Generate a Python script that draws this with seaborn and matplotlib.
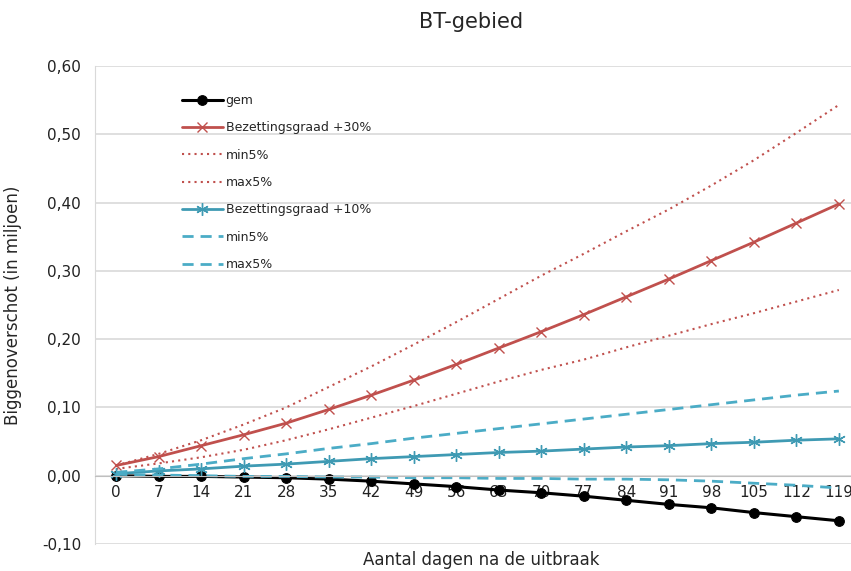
"""
BT-gebied: biggenoverschot per dag na de uitbraak.
"""
import numpy as np
import pandas as pd
import seaborn as sns
import matplotlib
matplotlib.use("Agg")
import matplotlib.pyplot as plt
from matplotlib.ticker import FuncFormatter

# dagen na de uitbraak
days = [0, 7, 14, 21, 28, 35, 42, 49, 56, 63, 70, 77, 84, 91, 98, 105, 112, 119]

# biggenoverschot (in miljoen)
gem = [0.000, -0.001, -0.001, -0.002, -0.003, -0.005, -0.008, -0.012, -0.016,
       -0.021, -0.025, -0.030, -0.036, -0.042, -0.047, -0.054, -0.060, -0.066]
bez30 = [0.015, 0.028, 0.044, 0.060, 0.077, 0.097, 0.118, 0.140, 0.163,
         0.187, 0.211, 0.236, 0.262, 0.288, 0.315, 0.342, 0.370, 0.398]
bez30_min5 = [0.010, 0.018, 0.027, 0.038, 0.052, 0.068, 0.085, 0.102, 0.120,
              0.138, 0.155, 0.170, 0.188, 0.205, 0.222, 0.238, 0.255, 0.272]
bez30_max5 = [0.015, 0.032, 0.052, 0.075, 0.100, 0.130, 0.160, 0.192, 0.225,
              0.259, 0.293, 0.325, 0.358, 0.390, 0.425, 0.462, 0.502, 0.543]
bez10 = [0.003, 0.007, 0.010, 0.014, 0.017, 0.021, 0.025, 0.028, 0.031,
         0.034, 0.036, 0.039, 0.042, 0.044, 0.047, 0.049, 0.052, 0.054]
bez10_min5 = [0.002, 0.001, 0.000, -0.001, -0.001, -0.002, -0.002, -0.003, -0.003,
              -0.004, -0.004, -0.005, -0.005, -0.006, -0.008, -0.011, -0.014, -0.018]
bez10_max5 = [0.005, 0.010, 0.017, 0.025, 0.032, 0.040, 0.047, 0.055, 0.062,
              0.069, 0.076, 0.083, 0.090, 0.097, 0.104, 0.111, 0.118, 0.124]

red = "#c0504d"
blue_solid = "#3f9ab3"
blue_dash = "#4bacc6"

sns.set_style("white")
plt.rcParams["font.family"] = ["DejaVu Sans"]

fig = plt.figure(figsize=(8.51, 5.71), dpi=100)
ax = fig.add_axes([0.1116, 0.0473, 0.8884, 0.8371])

series = [
    ("gem", gem, dict(color="black", linestyle="-", linewidth=2.2, marker="o", markersize=7,
                      markeredgecolor="black", markerfacecolor="black")),
    ("Bezettingsgraad +30%", bez30, dict(color=red, linestyle="-", linewidth=2, marker="x",
                                         markersize=7, markeredgewidth=1, markeredgecolor=red)),
    ("min5%", bez30_min5, dict(color=red, linestyle=(0, (1, 2)), linewidth=1.5)),
    ("max5%", bez30_max5, dict(color=red, linestyle=(0, (1, 2)), linewidth=1.5)),
    ("Bezettingsgraad +10%", bez10, dict(color=blue_solid, linestyle="-", linewidth=2,
                                         marker=(6, 2, 0), markersize=9, markeredgewidth=1,
                                         markeredgecolor=blue_solid)),
    ("min5%", bez10_min5, dict(color=blue_dash, linestyle=(0, (4, 2.5)), linewidth=2)),
    ("max5%", bez10_max5, dict(color=blue_dash, linestyle=(0, (4, 2.5)), linewidth=2)),
]

for name, values, style in series:
    df = pd.DataFrame({"dag": days, "waarde": values})
    sns.lineplot(data=df, x="dag", y="waarde", ax=ax, label=name, **style)

ax.set_xlim(-3.5, 121)
ax.set_ylim(-0.10, 0.60)
ax.set_yticks(np.arange(-0.10, 0.601, 0.10))
ax.yaxis.set_major_formatter(FuncFormatter(lambda v, p: f"{v:.2f}".replace(".", ",")))
ax.set_xticks(days)
ax.set_xticklabels([str(d) for d in days])
# kleine streepjes tussen de categorieën, zoals in Excel
ax.set_xticks([d + 3.5 for d in days[:-1]], minor=True)
ax.tick_params(axis="x", which="minor", length=4, color="#bfbfbf", direction="out")
ax.tick_params(axis="both", labelsize=11, colors="#222222")
ax.tick_params(axis="x", which="major", pad=7, length=0)
ax.tick_params(axis="y", pad=10, length=0)

ax.grid(axis="y", color="#d9d9d9", linewidth=1.2)
ax.set_axisbelow(True)
for side in ["top", "right"]:
    ax.spines[side].set_visible(False)
ax.spines["left"].set_color("#d9d9d9")
ax.spines["bottom"].set_position(("data", 0))
ax.spines["bottom"].set_color("#bfbfbf")

ax.set_xlabel("")
ax.set_ylabel("Biggenoverschot (in miljoen)", fontsize=12, labelpad=14)
fig.text(0.565, 0.02, "Aantal dagen na de uitbraak", ha="center", va="center", fontsize=12)
fig.text(0.553, 0.962, "BT-gebied", ha="center", va="center", fontsize=15)

ax.legend(loc="upper left", bbox_to_anchor=(0.1, 0.965), frameon=False, fontsize=9,
          handlelength=3.3, handletextpad=0.2, labelspacing=1.15)

fig.savefig("out.png", dpi=100)
